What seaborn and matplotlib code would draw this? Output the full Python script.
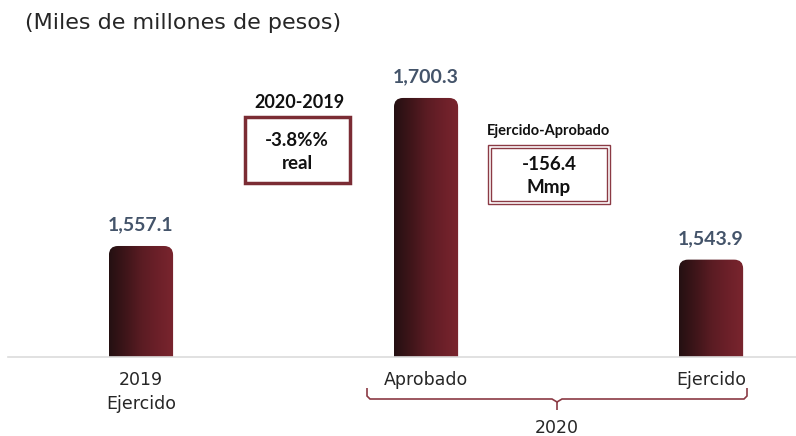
import numpy as np
import pandas as pd
import matplotlib
matplotlib.use("Agg")
import matplotlib.pyplot as plt
import seaborn as sns
from matplotlib.patches import FancyBboxPatch, Rectangle
from matplotlib.path import Path
from matplotlib.patches import PathPatch
from matplotlib.colors import LinearSegmentedColormap

# ---- data ----
categories = ["2019\nEjercido", "Aprobado", "Ejercido"]
values = [1557.1, 1700.3, 1543.9]
value_labels = ["1,557.1", "1,700.3", "1,543.9"]
title = "(Miles de millones de pesos)"
group_label = "2020"
box1_title = "2020-2019"
box1_text = "-3.8%%\nreal"
box2_title = "Ejercido-Aprobado"
box2_text = "-156.4\nMmp"

sns.set_theme(style="white")
plt.rcParams['font.family'] = ['Lato', 'DejaVu Sans']
REG = ['DejaVu Sans']

W, H = 796, 436
fig = plt.figure(figsize=(W / 100, H / 100), dpi=100)
ax = fig.add_axes([8 / W, 79 / H, 788 / W, 307 / H])

df = pd.DataFrame({"cat": categories, "val": values})
sns.barplot(data=df, x="cat", y="val", ax=ax, width=0.225, color="#6b1f27")

xlim = (-0.4667, 2.298)
ylim = (1449.7, 1746.7)
ax.set_xlim(*xlim)
ax.set_ylim(*ylim)

px_per_x = 788 / (xlim[1] - xlim[0])
px_per_y = 307 / (ylim[1] - ylim[0])
asp = px_per_x / px_per_y

cmap = LinearSegmentedColormap.from_list(
    "bar", ["#241012", "#3e1519", "#5a1c23", "#6c2029", "#7a252e"])
grad = np.linspace(0, 1, 256).reshape(1, -1)
for p in list(ax.patches):
    x0, y0 = p.get_x(), p.get_y()
    w, h = p.get_width(), p.get_height()
    p.set_visible(False)
    rs = 9 / px_per_x
    fb = FancyBboxPatch((x0, y0), w, h,
                        boxstyle=f"round,pad=0,rounding_size={rs}",
                        mutation_aspect=asp, facecolor="none",
                        edgecolor="none", transform=ax.transData)
    ax.add_patch(fb)
    im = ax.imshow(grad, extent=[x0, x0 + w, y0, y0 + h], aspect="auto",
                   cmap=cmap, zorder=2, interpolation="bicubic")
    im.set_clip_path(fb)

ax.set_xlim(*xlim)
ax.set_ylim(*ylim)

for i, (v, lab) in enumerate(zip(values, value_labels)):
    ax.annotate(lab, (i, v), xytext=(0, 9), textcoords="offset points",
                ha="center", va="bottom", fontsize=14, fontweight="bold",
                color="#44546a")

for s in ["top", "right", "left"]:
    ax.spines[s].set_visible(False)
ax.spines["bottom"].set_color("#dcdcdc")
ax.spines["bottom"].set_linewidth(1.2)
ax.set_yticks([])
ax.set_xlabel("")
ax.set_ylabel("")
ax.tick_params(axis="x", length=0, pad=10, labelsize=12.5, labelcolor="#262626")
for t in ax.get_xticklabels():
    t.set_linespacing(1.45)
    t.set_family(REG)

# title
fig.text(25 / W, 1 - 23 / H, title, ha="left", va="center",
         fontsize=16, color="#262626", family=REG)


def fx(x):
    return x / W


def fy(y):
    return 1 - y / H


# box 1
fig.text(fx(299), fy(102), box1_title, ha="center", va="center",
         fontsize=13, fontweight="bold", color="#111111")
fig.patches.append(Rectangle((fx(245), fy(183)), fx(105), 66 / H,
                             transform=fig.transFigure, fill=False,
                             edgecolor="#7b2c34", linewidth=2.5))
fig.text(fx(297), fy(152), box1_text, ha="center", va="center",
         fontsize=13.5, fontweight="bold", color="#111111", linespacing=1.4)

# box 2
fig.text(fx(549), fy(131), box2_title, ha="center", va="center",
         fontsize=10.5, fontweight="bold", color="#111111")
fig.patches.append(Rectangle((fx(488), fy(204)), fx(122), 59 / H,
                             transform=fig.transFigure, fill=False,
                             edgecolor="#8b3a44", linewidth=1.0))
fig.patches.append(Rectangle((fx(491), fy(201)), fx(116), 53 / H,
                             transform=fig.transFigure, fill=False,
                             edgecolor="#8b3a44", linewidth=1.0))
fig.text(fx(549), fy(176), box2_text, ha="center", va="center",
         fontsize=13.5, fontweight="bold", color="#111111", linespacing=1.4)

# brace
verts = [(367, 388), (367, 396), (370, 399), (552, 399), (557, 402),
         (557, 410), (557, 402), (562, 399), (744, 399), (747, 396), (747, 388)]
codes = [Path.MOVETO, Path.LINETO, Path.LINETO, Path.LINETO, Path.LINETO,
         Path.LINETO, Path.MOVETO, Path.LINETO, Path.LINETO, Path.LINETO,
         Path.LINETO]
path = Path([(fx(x), fy(y)) for x, y in verts], codes)
fig.patches.append(PathPatch(path, transform=fig.transFigure, fill=False,
                             edgecolor="#8b3a44", linewidth=1.2))
fig.text(fx(557), fy(428), group_label, ha="center", va="center",
         fontsize=12.5, color="#262626", family=REG)

fig.savefig("out.png", dpi=100)
